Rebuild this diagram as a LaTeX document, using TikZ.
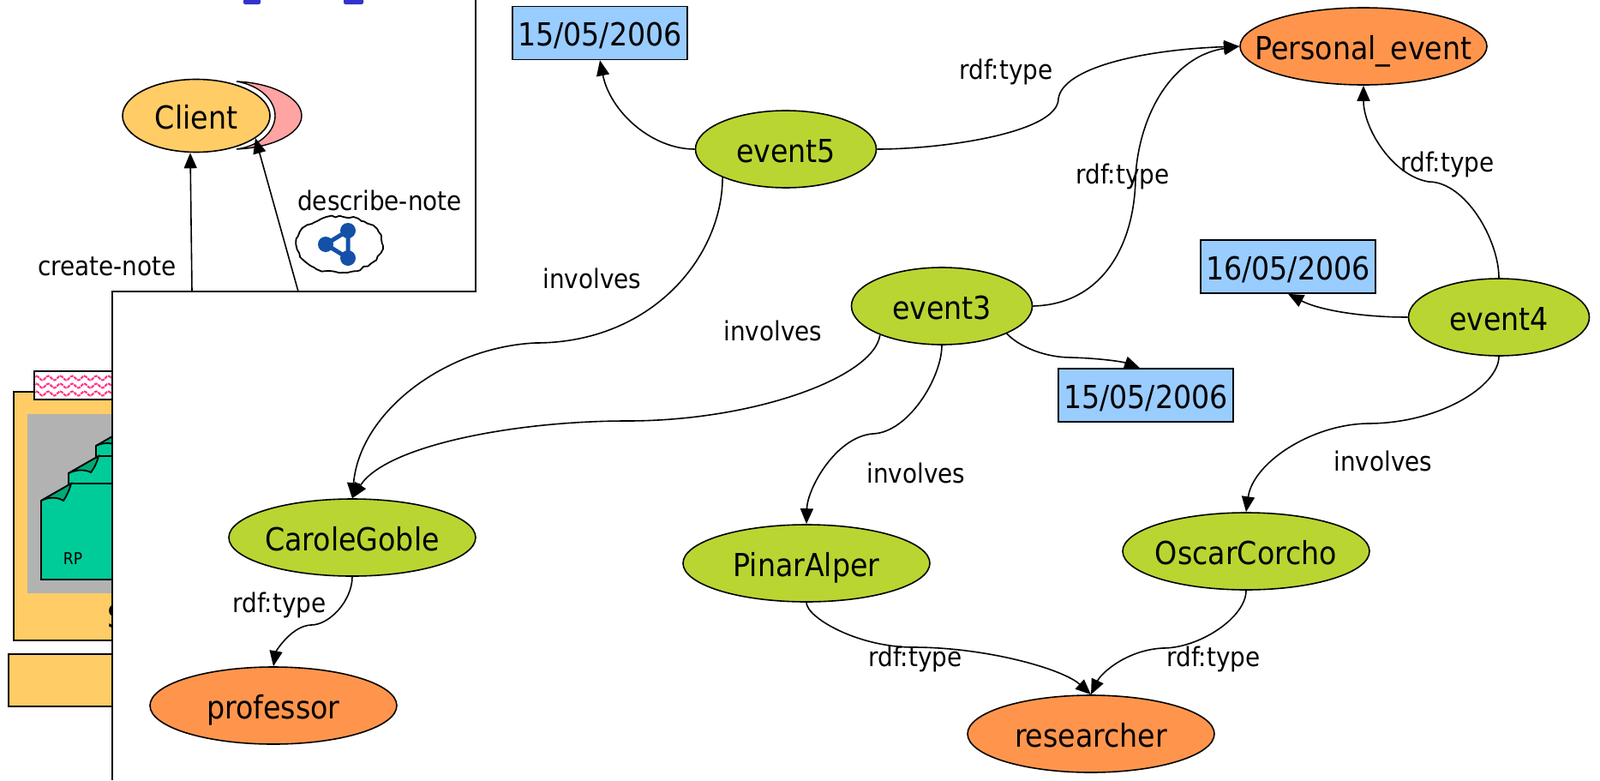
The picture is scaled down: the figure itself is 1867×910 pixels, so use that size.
\documentclass[tikz,border=0pt]{standalone}
\usepackage{fontspec}
\setmainfont{DejaVu Sans Condensed}
\usetikzlibrary{shapes.geometric,arrows.meta,decorations.pathmorphing}
\definecolor{evgreen}{HTML}{B9D532}
\definecolor{clsorange}{HTML}{FF954D}
\definecolor{dateblue}{HTML}{99CCFF}
\definecolor{clientor}{HTML}{FFCC66}
\definecolor{crescent}{HTML}{FFA3A3}
\definecolor{sheet}{HTML}{00CC99}
\definecolor{sheetdk}{HTML}{00AA77}
\definecolor{panelgray}{HTML}{B2B2B2}
\definecolor{wavy}{HTML}{FF3385}
\definecolor{molblue}{HTML}{1450A8}
\definecolor{markblue}{HTML}{3333CC}
\tikzset{
  bignode/.style={ellipse,draw=black,line width=1.6pt,inner xsep=-60pt,inner ysep=-20pt,minimum width=288pt,minimum height=90pt,text height=30.5pt,text depth=0pt,font=\fontsize{37}{40}\selectfont},
  evnode/.style={bignode,fill=evgreen,minimum width=211pt},
  indiv/.style={bignode,fill=evgreen},
  cls/.style={bignode,fill=clsorange},
  datebox/.style={rectangle,draw=black,line width=1.6pt,fill=dateblue,inner sep=0pt,minimum width=204pt,minimum height=62pt,text height=30.5pt,text depth=0pt,font=\fontsize{37}{40}\selectfont},
  lab/.style={inner sep=0pt,font=\fontsize{31}{34}\selectfont},
  conn/.style={draw=black,line width=1.6pt,-{Triangle[length=18pt,width=15pt]}},
  box/.style={draw=black,line width=1.8pt},
}
\begin{document}
\begin{tikzpicture}[x=1pt,y=-1pt]
\useasboundingbox (0,0) rectangle (1867,910);
% left partly hidden stack
\fill[markblue,rounded corners=2pt] (284,-5) rectangle (304,5);
\fill[markblue,rounded corners=2pt] (401,-5) rectangle (424,5);
\draw[box,fill=clientor] (16,457) rectangle (160,747);
\draw[box,fill=white] (40,433) rectangle (160,466);
\begin{scope}
\clip (41,434) rectangle (160,465);
\foreach \yy in {441,450,459}{
  \draw[wavy,line width=2pt,dash pattern=on 4pt off 1pt,decorate,decoration={snake,amplitude=2.5pt,segment length=14pt}] (38,\yy) -- (165,\yy);
}
\end{scope}
\fill[panelgray] (32,483) rectangle (160,692);
\draw[box,fill=sheet] (112,520) -- (160,495) -- (160,600) -- (112,600) -- cycle;
\draw[box,fill=sheetdk] (112,520) -- (150,498) .. controls (147,508) and (144,514) .. (138,520) .. controls (130,516) and (120,516) .. (112,520) -- cycle;
\draw[box,fill=sheet] (80,552) -- (115,532) -- (160,532) -- (160,640) -- (80,640) -- cycle;
\draw[box,fill=sheetdk] (80,552) -- (115,532) .. controls (113,540) and (110,546) .. (106,551) .. controls (98,547) and (88,548) .. (80,552) -- cycle;
\draw[box,fill=sheet] (48,584) -- (83,564) -- (160,564) -- (160,676) -- (48,676) -- cycle;
\draw[box,fill=sheetdk] (48,584) -- (83,564) .. controls (81,572) and (78,578) .. (74,584) .. controls (66,579) and (56,580) .. (48,584) -- cycle;
\node[font=\fontsize{19}{21}\selectfont,inner sep=0pt] (rp) at (85,652) {RP};
\node[font=\fontsize{37}{40}\selectfont,inner sep=0pt] (sm) at (136,719) {S};
\draw[box,fill=clientor] (10,763) rectangle (160,824);
% white frame
\fill[white] (131,340) rectangle (1867,910);
\coordinate (frameA) at (131,910);
\coordinate (frameB) at (131,340);
\coordinate (frameC) at (555,340);
\coordinate (frameD) at (555,0);
\draw[black,line width=2pt] (frameA) -- (frameB) -- (frameC) -- (frameD);
% client
\draw[black,line width=1.4pt,fill=crescent] (276,95) .. controls (320,97) and (352,115) .. (352,135) .. controls (352,155) and (320,172) .. (276,174) .. controls (305,170) and (321,152) .. (321,135) .. controls (321,118) and (305,100) .. (276,95) -- cycle;
\node[bignode,fill=clientor,minimum width=172pt,minimum height=85pt] (client) at (229,135) {Client};
\coordinate (cn) at (224,340);
\coordinate (dn) at (348,340);
\coordinate (dnt) at (298,161);
\draw[conn] (cn) -- (client.south -| 222,0);
\draw[conn] (dn) -- (dnt);
\node[lab] (lcn) at (125,311) {create-note};
\node[lab] (ldn) at (443,234) {describe-note};
% cloud icon
\draw[black,line width=1.8pt,fill=white,decorate,decoration={random steps,segment length=5pt,amplitude=1.5pt}] (396,285) ellipse [x radius=50pt,y radius=33pt];
\draw[molblue,line width=5pt] (406,269) -- (380,285) -- (406,301) -- cycle;
\fill[molblue] (406,269) circle (9pt) (380,285) circle (9pt) (406,301) circle (9pt);
% nodes
\node[datebox] (d1) at (700,38.5) {15/05/2006};
\node[datebox] (d2) at (1503,311) {16/05/2006};
\node[datebox] (d3) at (1337,461) {15/05/2006};
\node[cls] (pe) at (1591,54) {Personal\_event};
\node[evnode] (ev5) at (917,174) {event5};
\node[evnode] (ev3) at (1099,357) {event3};
\node[evnode] (ev4) at (1749,370) {event4};
\node[indiv] (car) at (411,627) {CaroleGoble};
\node[indiv] (pin) at (941,657) {PinarAlper};
\node[indiv] (osc) at (1454,643) {OscarCorcho};
\node[cls] (prof) at (319,823) {professor};
\node[cls] (res) at (1273,856) {researcher};
% connectors
\draw[conn] (ev5.west) .. controls (760,174) and (712,130) .. (d1.south);
\draw[conn] (ev5.east) .. controls (1100,174) and (1235,155) .. (1235,115) .. controls (1240,80) and (1330,58) .. (pe.west);
\draw[conn] (ev5.204) .. controls (843,300) and (760,400) .. (625,400) .. controls (520,405) and (420,480) .. (car.north);
\draw[conn] (ev3.205) .. controls (1020,440) and (880,491) .. (732,491) .. controls (600,491) and (450,520) .. (car.north);
\draw[conn] (ev3.east) .. controls (1290,355) and (1325,280) .. (1325,205) .. controls (1330,130) and (1370,65) .. (pe.west);
\draw[conn] (ev3.-23) .. controls (1190,405) and (1220,417) .. (1250,417) .. controls (1285,418) and (1310,422) .. (d3.north -| 1330,0);
\draw[conn] (ev3.south) .. controls (1099,440) and (1060,505) .. (1018,506) .. controls (975,510) and (942,570) .. (pin.north);
\draw[conn] (ev4.north) .. controls (1749,280) and (1710,212) .. (1667,212) .. controls (1625,205) and (1591,150) .. (pe.south);
\draw[conn] (ev4.west) .. controls (1590,370) and (1540,362) .. (d2.south);
\draw[conn] (ev4.south) .. controls (1749,450) and (1680,494) .. (1596,494) .. controls (1530,495) and (1462,540) .. (osc.north);
\draw[conn] (car.south) .. controls (411,700) and (385,729) .. (363,729) .. controls (340,730) and (322,760) .. (prof.north);
\draw[conn] (pin.south) .. controls (941,720) and (1000,755) .. (1066,755) .. controls (1150,755) and (1240,780) .. (res.north);
\draw[conn] (osc.south) .. controls (1454,720) and (1400,756) .. (1357,756) .. controls (1315,758) and (1285,785) .. (res.north);
% labels
\node[lab] (l1) at (1174,84) {rdf:type};
\node[lab] (l2) at (1310,206) {rdf:type};
\node[lab] (l3) at (1689,192) {rdf:type};
\node[lab] (l4) at (691,325) {involves};
\node[lab] (l5) at (902,386) {involves};
\node[lab] (l6) at (1069,552) {involves};
\node[lab] (l7) at (1614,538) {involves};
\node[lab] (l8) at (326,706) {rdf:type};
\node[lab] (l9) at (1068,769) {rdf:type};
\node[lab] (l10) at (1416,769) {rdf:type};
\end{tikzpicture}
\end{document}
